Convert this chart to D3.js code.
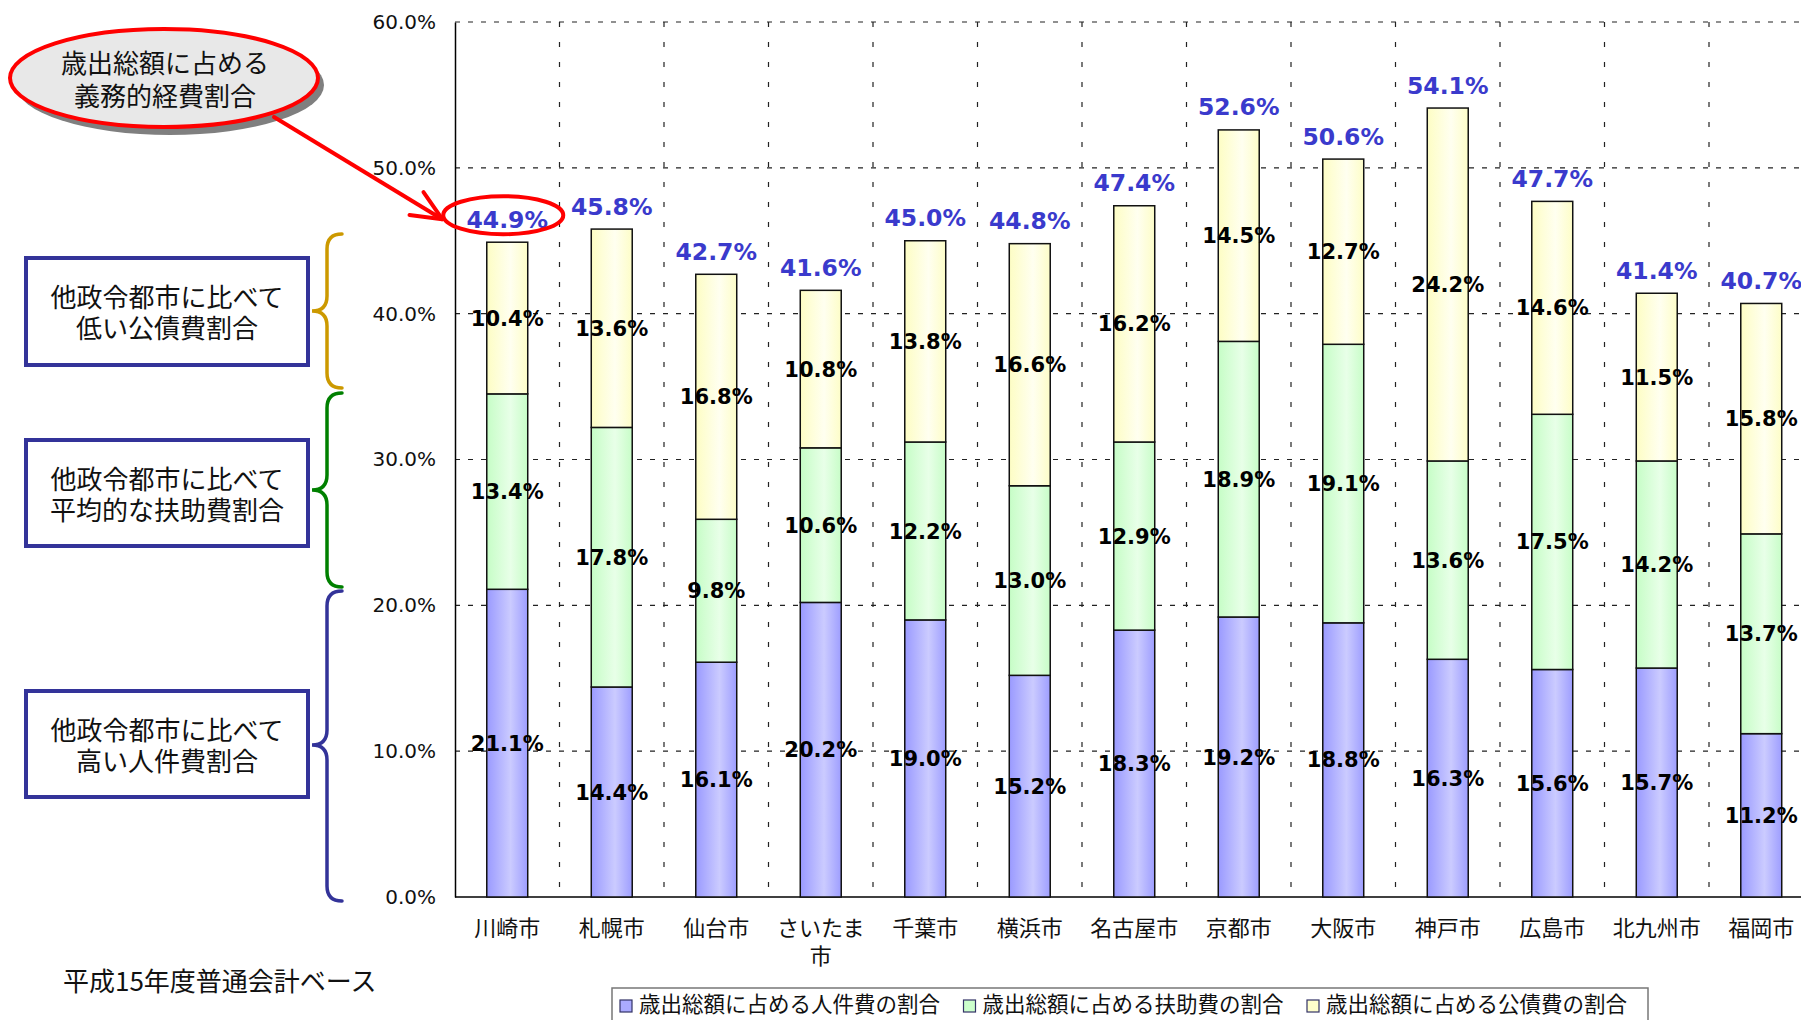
<!DOCTYPE html>
<html>
<head>
<meta charset="utf-8">
<script src="https://cdn.jsdelivr.net/npm/d3@7"></script>
<style>
  html, body { margin: 0; padding: 0; background: #fff; }
  svg { display: block; }
</style>
</head>
<body>
<script>
// 政令指定都市の歳出総額に占める義務的経費の内訳（平成15年度 普通会計）
const cities = ["川崎市", "札幌市", "仙台市", "さいたま市", "千葉市", "横浜市", "名古屋市",
                "京都市", "大阪市", "神戸市", "広島市", "北九州市", "福岡市"];
const personnel  = [21.1, 14.4, 16.1, 20.2, 19.0, 15.2, 18.3, 19.2, 18.8, 16.3, 15.6, 15.7, 11.2];
const assistance = [13.4, 17.8,  9.8, 10.6, 12.2, 13.0, 12.9, 18.9, 19.1, 13.6, 17.5, 14.2, 13.7];
const debt       = [10.4, 13.6, 16.8, 10.8, 13.8, 16.6, 16.2, 14.5, 12.7, 24.2, 14.6, 11.5, 15.8];
const totals     = [44.9, 45.8, 42.7, 41.6, 45.0, 44.8, 47.4, 52.6, 50.6, 54.1, 47.7, 41.4, 40.7];
const yTicks = [0, 10, 20, 30, 40, 50, 60];
const seriesKeys = ["personnel", "assistance", "debt"];
const seriesNames = ["歳出総額に占める人件費の割合", "歳出総額に占める扶助費の割合", "歳出総額に占める公債費の割合"];

const W = 1801, H = 1020;
const JP = "'Noto Sans CJK JP', 'Noto Sans', sans-serif";
const NUM = "'DejaVu Sans', 'Noto Sans', sans-serif";

const svg = d3.select("body").append("svg")
  .attr("width", W).attr("height", H)
  .attr("viewBox", `0 0 ${W} ${H}`);

// gradients for the bar segments (darker edges, lighter centre)
const defs = svg.append("defs");
const gradStops = {
  personnel:  ["#9a9aff", "#cbcbff", "#9e9eff"],
  assistance: ["#c6fdc6", "#e8ffe8", "#c8fdc8"],
  debt:       ["#fdfdc4", "#fffff0", "#fdfdc8"]
};
seriesKeys.forEach(k => {
  const g = defs.append("linearGradient").attr("id", "g-" + k)
    .attr("x1", 0).attr("x2", 1).attr("y1", 0).attr("y2", 0);
  g.append("stop").attr("offset", "0%").attr("stop-color", gradStops[k][0]);
  g.append("stop").attr("offset", "58%").attr("stop-color", gradStops[k][1]);
  g.append("stop").attr("offset", "100%").attr("stop-color", gradStops[k][2]);
});

// scales
const plotLeft = 455, step = 104.5;
const x = d3.scaleBand().domain(cities).range([plotLeft, plotLeft + step * cities.length]).padding(0);
const y = d3.scaleLinear().domain([0, 60]).range([897, 22]);
const barW = x.bandwidth() * 0.392;
const cx = c => x(c) + x.bandwidth() / 2;

// grid
const grid = svg.append("g");
grid.selectAll("line.h").data(yTicks.filter(d => d > 0)).join("line")
  .attr("x1", plotLeft).attr("x2", W)
  .attr("y1", d => y(d)).attr("y2", d => y(d))
  .attr("stroke", "#222").attr("stroke-width", 1.2)
  .attr("stroke-dasharray", "5,8");
grid.selectAll("line.v").data(cities).join("line")
  .attr("x1", d => x(d) + x.bandwidth()).attr("x2", d => x(d) + x.bandwidth())
  .attr("y1", y(60)).attr("y2", y(0))
  .attr("stroke", "#222").attr("stroke-width", 1.2)
  .attr("stroke-dasharray", "5,15");

// y axis
const yAxis = d3.axisLeft(y).tickValues(yTicks)
  .tickFormat(d => d.toFixed(1) + "%").tickSize(0).tickPadding(19);
const ya = svg.append("g").attr("transform", `translate(${plotLeft},0)`).call(yAxis);
ya.select(".domain").attr("stroke", "#000").attr("stroke-width", 1.5);
ya.selectAll("text").attr("font-family", NUM).attr("font-size", 20).attr("fill", "#111");

// x axis line
svg.append("line").attr("x1", plotLeft).attr("x2", W)
  .attr("y1", y(0)).attr("y2", y(0)).attr("stroke", "#000").attr("stroke-width", 1.5);

// stacked bars
const rows = cities.map((c, i) => ({ city: c, personnel: personnel[i], assistance: assistance[i], debt: debt[i] }));
const stacked = d3.stack().keys(seriesKeys)(rows);

const barsG = svg.append("g");
stacked.forEach(layer => {
  barsG.append("g").selectAll("rect").data(layer).join("rect")
    .attr("x", d => cx(d.data.city) - barW / 2)
    .attr("width", barW)
    .attr("y", d => y(d[1]))
    .attr("height", d => y(d[0]) - y(d[1]))
    .attr("fill", `url(#g-${layer.key})`)
    .attr("stroke", "#111").attr("stroke-width", 1.5);
});

// segment labels
const labG = svg.append("g");
stacked.forEach(layer => {
  labG.append("g").selectAll("text").data(layer).join("text")
    .attr("x", d => cx(d.data.city))
    .attr("y", d => y((d[0] + d[1]) / 2))
    .attr("dy", "0.36em")
    .attr("text-anchor", "middle")
    .attr("font-family", NUM).attr("font-weight", "bold").attr("font-size", 21)
    .attr("fill", "#000")
    .text(d => d.data[layer.key].toFixed(1) + "%");
});

// totals above the bars
svg.append("g").selectAll("text").data(cities).join("text")
  .attr("x", c => cx(c))
  .attr("y", (c, i) => y(totals[i]) - 23)
  .attr("dy", "0.36em")
  .attr("text-anchor", "middle")
  .attr("font-family", NUM).attr("font-weight", "bold").attr("font-size", 23.5)
  .attr("fill", "#3a3acc")
  .text((c, i) => totals[i].toFixed(1) + "%");

// category labels (wrap long names after 4 characters)
const catG = svg.append("g");
cities.forEach(c => {
  const lines = [];
  for (let k = 0; k < c.length; k += 4) lines.push(c.slice(k, k + 4));
  const t = catG.append("text")
    .attr("x", cx(c)).attr("y", 936)
    .attr("text-anchor", "middle")
    .attr("font-family", JP).attr("font-size", 22).attr("fill", "#111");
  lines.forEach((ln, j) => t.append("tspan").attr("x", cx(c)).attr("dy", j ? 28 : 0).text(ln));
});

// legend
const legG = svg.append("g");
legG.append("rect").attr("x", 612).attr("y", 988).attr("width", 1036).attr("height", 60)
  .attr("fill", "#fff").attr("stroke", "#777").attr("stroke-width", 1.5);
const legSolid = { personnel: "#aaaaff", assistance: "#ccffcc", debt: "#ffffcc" };
seriesKeys.forEach((k, i) => {
  const lx = 620 + i * 343.5;
  legG.append("rect").attr("x", lx).attr("y", 1000).attr("width", 12).attr("height", 12)
    .attr("fill", legSolid[k]).attr("stroke", "#333366").attr("stroke-width", 1.2);
  legG.append("text").attr("x", lx + 19).attr("y", 1006).attr("dy", "0.3em")
    .attr("font-family", JP).attr("font-size", 21.5).attr("fill", "#111")
    .text(seriesNames[i]);
});

// footnote
svg.append("text").attr("x", 63).attr("y", 982).attr("dy", "0.36em")
  .attr("font-family", JP).attr("font-size", 26).attr("fill", "#111")
  .text("平成15年度普通会計ベース");

// ---- annotations ----
const ann = svg.append("g");

// callout bubble
ann.append("ellipse").attr("cx", 170).attr("cy", 85).attr("rx", 154).attr("ry", 50).attr("fill", "#7f7f7f");
ann.append("ellipse").attr("cx", 164).attr("cy", 78).attr("rx", 154).attr("ry", 49)
  .attr("fill", "#e8e8e8").attr("stroke", "#ff0000").attr("stroke-width", 4);
const bubbleText = ann.append("text").attr("text-anchor", "middle")
  .attr("font-family", JP).attr("font-size", 26).attr("fill", "#111");
["歳出総額に占める", "義務的経費割合"].forEach((t, i) => {
  bubbleText.append("tspan").attr("x", 165).attr("y", 64 + i * 33).attr("dy", "0.36em").text(t);
});

// ring around the first total
const firstTotalY = y(totals[0]) - 23;
ann.append("ellipse").attr("cx", cx(cities[0]) - 4).attr("cy", firstTotalY - 4)
  .attr("rx", 60).attr("ry", 19)
  .attr("fill", "none").attr("stroke", "#ff0000").attr("stroke-width", 4);

// arrow from the bubble to the ring
const a0 = [274, 117], a1 = [cx(cities[0]) - 65, firstTotalY];
ann.append("line").attr("x1", a0[0]).attr("y1", a0[1]).attr("x2", a1[0]).attr("y2", a1[1])
  .attr("stroke", "#ff0000").attr("stroke-width", 4).attr("stroke-linecap", "round");
const ang = Math.atan2(a1[1] - a0[1], a1[0] - a0[0]) + Math.PI;
const hl = 33, spread = 0.42;
const h1 = [a1[0] + hl * Math.cos(ang - spread), a1[1] + hl * Math.sin(ang - spread)];
const h2 = [a1[0] + hl * Math.cos(ang + spread), a1[1] + hl * Math.sin(ang + spread)];
ann.append("path").attr("d", `M${h1[0]},${h1[1]} L${a1[0]},${a1[1]} L${h2[0]},${h2[1]}`)
  .attr("fill", "none").attr("stroke", "#ff0000").attr("stroke-width", 4)
  .attr("stroke-linecap", "round").attr("stroke-linejoin", "round");

// explanatory boxes
const boxes = [
  { y0: 258, y1: 365, lines: ["他政令都市に比べて", "低い公債費割合"] },
  { y0: 440, y1: 546, lines: ["他政令都市に比べて", "平均的な扶助費割合"] },
  { y0: 691, y1: 797, lines: ["他政令都市に比べて", "高い人件費割合"] }
];
boxes.forEach(b => {
  ann.append("rect").attr("x", 26).attr("y", b.y0).attr("width", 282).attr("height", b.y1 - b.y0)
    .attr("fill", "#fff").attr("stroke", "#333399").attr("stroke-width", 4);
  const mid = (b.y0 + b.y1) / 2 + 2;
  const t = ann.append("text").attr("text-anchor", "middle")
    .attr("font-family", JP).attr("font-size", 26).attr("fill", "#111");
  b.lines.forEach((ln, i) => {
    t.append("tspan").attr("x", 167).attr("y", mid + (i ? 15.5 : -15.5)).attr("dy", "0.36em").text(ln);
  });
});

// curly braces grouping each segment range
function brace(y0, y1, ym, color) {
  const xt = 312, xs = 327, xe = 342, r = 15;
  const d = `M${xe},${y0} Q${xs},${y0} ${xs},${y0 + r} L${xs},${ym - r} Q${xs},${ym} ${xt},${ym}` +
            ` Q${xs},${ym} ${xs},${ym + r} L${xs},${y1 - r} Q${xs},${y1} ${xe},${y1}`;
  ann.append("path").attr("d", d).attr("fill", "none").attr("stroke", color)
    .attr("stroke-width", 3.5).attr("stroke-linecap", "round");
}
brace(234, 388, 311, "#cc9900");
brace(393, 587, 490, "#008000");
brace(591, 901, 745, "#333399");
</script>
</body>
</html>
